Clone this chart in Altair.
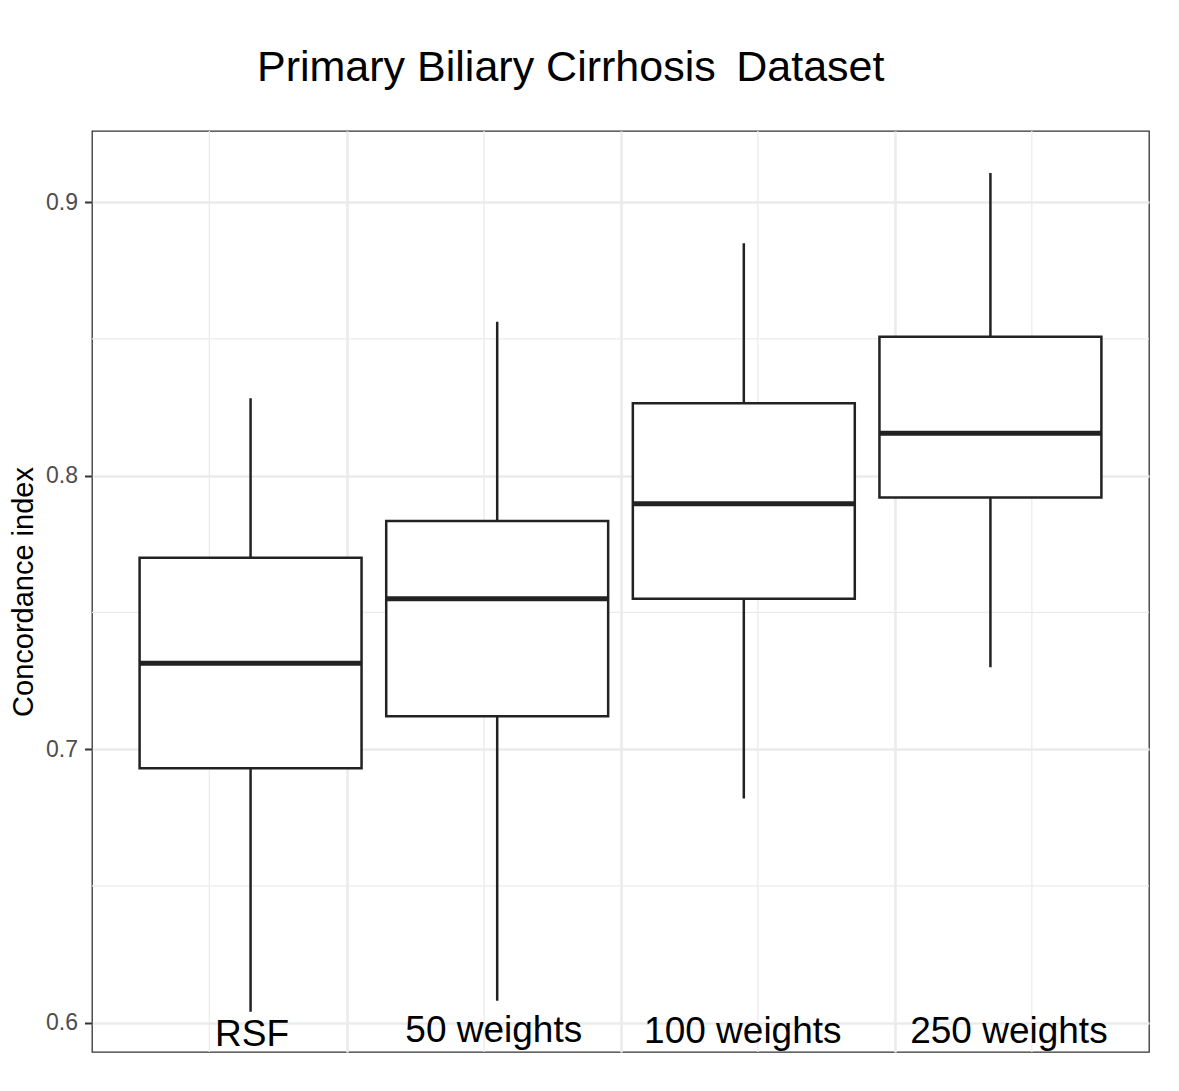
import altair as alt
import pandas as pd

# ---- data ----
methods = ["RSF", "50 weights", "100 weights", "250 weights"]
positions = [1, 2, 3, 4]
whisker_low = [0.604, 0.608, 0.682, 0.730]
q1 = [0.693, 0.712, 0.755, 0.792]
median = [0.7314, 0.755, 0.7897, 0.8155]
q3 = [0.770, 0.7834, 0.8265, 0.8508]
whisker_high = [0.8283, 0.8563, 0.885, 0.9106]

label_x = [1.006, 1.986, 2.996, 4.075]
label_y = [0.5915, 0.5928, 0.5927, 0.5927]

y_major = [0.6, 0.7, 0.8, 0.9]
y_minor = [0.65, 0.75, 0.85]
x_major = [1.390, 2.502, 3.612]
x_minor = [0.833, 1.947, 3.057, 4.168]

BOX_HALF = 0.45
FONT = "Liberation Sans"
LINE = "#222222"
GRID = "#EBEBEB"

boxes = pd.DataFrame({
    "method": methods, "pos": positions, "lo": whisker_low, "q1": q1,
    "med": median, "q3": q3, "hi": whisker_high,
})
labels = pd.DataFrame({"method": methods, "lx": label_x, "ly": label_y})
xmin = pd.DataFrame({"gx": x_minor})
ymin = pd.DataFrame({"gy": y_minor})

xs = alt.Scale(domain=[0.357, 4.643], nice=False, zero=False)
ys = alt.Scale(domain=[0.5893, 0.9260], nice=False, zero=False)

xaxis = alt.Axis(values=x_major, grid=True, gridColor=GRID, gridWidth=2.6,
                 labels=False, ticks=False, domain=False, title=None)
yaxis = alt.Axis(values=y_major, format=".1f", grid=True, gridColor=GRID, gridWidth=2.6,
                 domain=False, labelColor="#4D4D4D", labelFont=FONT, labelFontSize=23,
                 labelPadding=7, tickSize=7.5, tickWidth=2, tickColor="#333333",
                 title="Concordance index", titleFont=FONT, titleFontSize=29,
                 titleFontWeight="normal", titleColor="black", titlePadding=7)

grid_x = alt.Chart(xmin).mark_rule(color=GRID, strokeWidth=1.3).encode(
    x=alt.X("gx:Q", scale=xs, axis=xaxis))
grid_y = alt.Chart(ymin).mark_rule(color=GRID, strokeWidth=1.3).encode(
    y=alt.Y("gy:Q", scale=ys, axis=yaxis))

base = alt.Chart(boxes).transform_calculate(
    left=f"datum.pos - {BOX_HALF}", right=f"datum.pos + {BOX_HALF}")

whiskers = base.mark_rule(color=LINE, strokeWidth=2.5).encode(
    x=alt.X("pos:Q", scale=xs, axis=xaxis),
    y=alt.Y("lo:Q", scale=ys, axis=yaxis),
    y2="hi:Q")

box = base.mark_bar(fill="white", stroke=LINE, strokeWidth=2.5).encode(
    x=alt.X("left:Q", scale=xs, axis=xaxis),
    x2="right:Q",
    y=alt.Y("q1:Q", scale=ys, axis=yaxis),
    y2="q3:Q")

med = base.mark_rule(color=LINE, strokeWidth=5).encode(
    x=alt.X("left:Q", scale=xs, axis=xaxis),
    x2="right:Q",
    y=alt.Y("med:Q", scale=ys, axis=yaxis))

text = alt.Chart(labels).mark_text(font=FONT, fontSize=37, color="black",
                                    align="center", baseline="alphabetic").encode(
    x=alt.X("lx:Q", scale=xs, axis=xaxis),
    y=alt.Y("ly:Q", scale=ys, axis=yaxis),
    text="method:N")

chart = alt.layer(grid_x, grid_y, whiskers, box, med, text).properties(
    width=1057, height=921,
    title=alt.TitleParams(text="Primary Biliary Cirrhosis \u2009Dataset", font=FONT,
                          fontSize=43, fontWeight="normal", color="black",
                          anchor="start", frame="group", dx=165, offset=6,
                          baseline="alphabetic"),
    autosize=alt.AutoSizeParams(type="none"),
    padding={"left": 84, "top": 123, "right": 22, "bottom": 31},
    background="white",
).configure_view(stroke="#333333", strokeWidth=1.3)

chart.save("out.html", embed_options={"renderer": "svg", "actions": False})
